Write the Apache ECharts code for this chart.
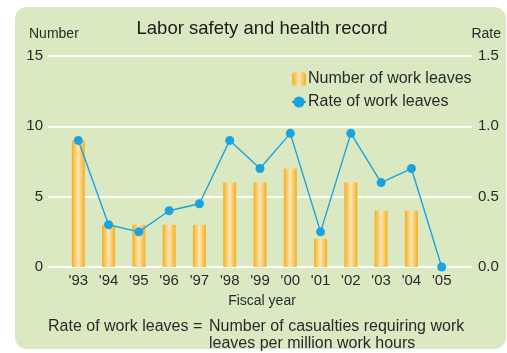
<!DOCTYPE html>
<html>
<head>
<meta charset="utf-8">
<script src="https://cdn.jsdelivr.net/npm/echarts@6/dist/echarts.min.js"></script>
<style>
  html, body { margin: 0; padding: 0; background: #ffffff; }
  #chart { width: 507px; height: 353px; }
</style>
</head>
<body>
<div id="chart"></div>
<script>
// Fiscal years and the two series plotted against them
var years = ["'93", "'94", "'95", "'96", "'97", "'98", "'99", "'00", "'01", "'02", "'03", "'04", "'05"];
var workLeaves = [9, 3, 3, 3, 3, 6, 6, 7, 2, 6, 4, 4, 0];
var leaveRate = [0.9, 0.3, 0.25, 0.4, 0.45, 0.9, 0.7, 0.95, 0.25, 0.95, 0.6, 0.7, 0.0];
var countTicks = [0, 5, 10, 15];
var rateTicks = [0, 0.5, 1.0, 1.5];

// Empty slots at both ends so the gridlines run past the first and last year
var axisCats = [''].concat(years, ['']);
function pad(arr) { return [null].concat(arr, [null]); }

var FONT = '"Liberation Sans", Arial, sans-serif';
var TEXT = '#2a2a2a';

var barFill = new echarts.graphic.LinearGradient(0, 0, 1, 0, [
  { offset: 0, color: '#f6ae1a' },
  { offset: 0.5, color: '#fde6b6' },
  { offset: 1, color: '#f6ae1a' }
]);

var chart = echarts.init(document.getElementById('chart'), null, { renderer: 'canvas' });

chart.setOption({
  animation: false,
  backgroundColor: '#ffffff',
  textStyle: { fontFamily: FONT },
  graphic: [
    {
      type: 'rect', z: -10,
      shape: { x: 15, y: 7, width: 491, height: 342, r: 12 },
      style: { fill: '#dbe9c3' }
    },
    { type: 'text', x: 262, y: 29, style: { text: 'Labor safety and health record', font: '18.5px ' + FONT, fill: '#1a1a1a', align: 'center', verticalAlign: 'middle' } },
    { type: 'text', x: 29, y: 34, style: { text: 'Number', font: '14px ' + FONT, fill: TEXT, verticalAlign: 'middle' } },
    { type: 'text', x: 501, y: 34, style: { text: 'Rate', font: '14px ' + FONT, fill: TEXT, align: 'right', verticalAlign: 'middle' } },
    { type: 'text', x: 262, y: 301, style: { text: 'Fiscal year', font: '14px ' + FONT, fill: TEXT, align: 'center', verticalAlign: 'middle' } },
    { type: 'text', x: 48, y: 327, style: { text: 'Rate of work leaves =', font: '16px ' + FONT, fill: TEXT, verticalAlign: 'middle' } },
    { type: 'text', x: 209, y: 327, style: { text: 'Number of casualties requiring work', font: '16px ' + FONT, fill: TEXT, verticalAlign: 'middle' } },
    { type: 'text', x: 209, y: 344, style: { text: 'leaves per million work hours', font: '16px ' + FONT, fill: TEXT, verticalAlign: 'middle' } }
  ],
  legend: {
    orient: 'vertical',
    left: 286,
    top: 66,
    itemWidth: 14,
    itemHeight: 14,
    itemGap: 7,
    textStyle: { fontFamily: FONT, fontSize: 16, color: TEXT, padding: [0, 0, 0, -3] },
    data: ['Number of work leaves', 'Rate of work leaves']
  },
  grid: { left: 48, right: 35, top: 56, bottom: 86 },
  xAxis: {
    type: 'category',
    data: axisCats,
    boundaryGap: false,
    axisLine: { show: false },
    axisTick: { show: false },
    axisLabel: { color: TEXT, fontSize: 15, fontFamily: FONT, margin: 6, interval: 0 },
    splitLine: { show: false }
  },
  yAxis: [
    {
      type: 'value', min: countTicks[0], max: countTicks[countTicks.length - 1], interval: countTicks[1] - countTicks[0],
      axisLine: { show: false }, axisTick: { show: false },
      axisLabel: { color: TEXT, fontSize: 15, fontFamily: FONT, margin: 5 },
      splitLine: { lineStyle: { color: '#ffffff', width: 2 } }
    },
    {
      type: 'value', min: rateTicks[0], max: rateTicks[rateTicks.length - 1], interval: rateTicks[1] - rateTicks[0],
      axisLine: { show: false }, axisTick: { show: false },
      axisLabel: { color: TEXT, fontSize: 15, fontFamily: FONT, margin: 6, formatter: function (v) { return v.toFixed(1); } },
      splitLine: { show: false }
    }
  ],
  series: [
    {
      name: 'Number of work leaves',
      type: 'bar',
      yAxisIndex: 0,
      barWidth: 13,
      data: pad(workLeaves),
      itemStyle: { color: barFill }
    },
    {
      name: 'Rate of work leaves',
      type: 'line',
      yAxisIndex: 1,
      data: pad(leaveRate),
      symbol: 'circle',
      symbolSize: 9,
      connectNulls: false,
      lineStyle: { color: '#1ba3df', width: 1.4 },
      itemStyle: { color: '#1ba3df' }
    }
  ]
});
</script>
</body>
</html>
